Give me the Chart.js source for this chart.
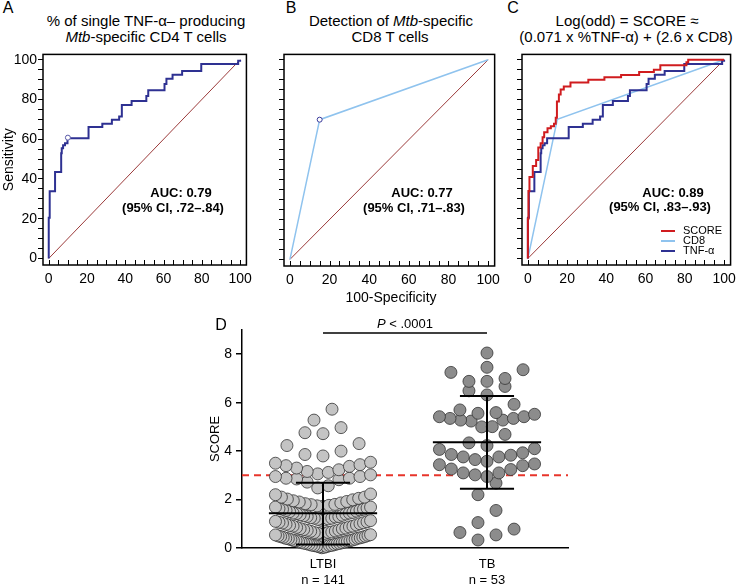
<!DOCTYPE html>
<html>
<head>
<meta charset="utf-8">
<script src="https://cdn.jsdelivr.net/npm/chart.js@4.4.1/dist/chart.umd.min.js"></script>
<style>
  body { margin: 0; background: #fff; }
  #fig { position: relative; width: 742px; height: 587px; font-family: "Liberation Sans", Arial, sans-serif; color: #000; }
  canvas { position: absolute; }
  .t { position: absolute; transform: translate(-50%, -50%); white-space: nowrap; }
  .ttl { font-size: 15px; }
  .auc { font-size: 13px; font-weight: bold; }
  .lbl { font-size: 16px; }
  .leg { position: absolute; font-size: 11px; line-height: 10px; }
  .leg span { display: inline-block; width: 14px; height: 2px; vertical-align: middle; margin-right: 8px; }
</style>
</head>
<body>
<div id="fig">
  <canvas id="rocA" width="258" height="250" style="left:0;top:45px"></canvas>
  <canvas id="rocB" width="236" height="250" style="left:270px;top:45px"></canvas>
  <canvas id="rocC" width="234" height="250" style="left:508px;top:45px"></canvas>
  <canvas id="dots" width="380" height="282" style="left:200px;top:305px"></canvas>

  <div class="t lbl" style="left:8px;top:8px">A</div>
  <div class="t lbl" style="left:291px;top:8px">B</div>
  <div class="t lbl" style="left:513px;top:8px">C</div>
  <div class="t lbl" style="left:221px;top:325px">D</div>

  <div class="t ttl" style="left:146px;top:20px">% of single TNF-α– producing</div>
  <div class="t ttl" style="left:146px;top:36px"><i>Mtb</i>-specific CD4 T cells</div>
  <div class="t ttl" style="left:391px;top:20px">Detection of <i>Mtb</i>-specific</div>
  <div class="t ttl" style="left:390px;top:36px">CD8 T cells</div>
  <div class="t ttl" style="left:627px;top:20px">Log(odd) = SCORE ≈</div>
  <div class="t ttl" style="left:626px;top:36px">(0.071 x %TNF-α) + (2.6 x CD8)</div>

  <div class="t auc" style="left:181px;top:192px">AUC: 0.79</div>
  <div class="t auc" style="left:173px;top:207px">(95% CI, .72–.84)</div>
  <div class="t auc" style="left:422px;top:192px">AUC: 0.77</div>
  <div class="t auc" style="left:414px;top:207px">(95% CI, .71–.83)</div>
  <div class="t auc" style="left:673px;top:192px">AUC: 0.89</div>
  <div class="t auc" style="left:660px;top:206px">(95% CI, .83–.93)</div>

  <div class="leg" style="left:661px;top:225px"><span style="background:#d01c1f"></span>SCORE</div>
  <div class="leg" style="left:661px;top:235px"><span style="background:#8fc3ee"></span>CD8</div>
  <div class="leg" style="left:661px;top:245px"><span style="background:#2e3192"></span>TNF-α</div>

  <div class="t" style="left:391px;top:297px;font-size:14px">100-Specificity</div>
  <div class="t" style="left:405px;top:323px;font-size:13px"><i>P</i> &lt; .0001</div>
</div>
<script>
// ROC curves (x = 100-specificity, y = sensitivity)
const tnfFpr = [0, 0, 0.5, 3.3, 6.5, 6.8, 7.5, 8.5, 9.8, 20.8, 28, 33, 36.8, 38.2, 43.3, 51, 52, 60.5, 61.5, 64.7, 69.7, 79.7, 99, 100];
const tnfTpr = [0, 20.5, 33.8, 43.5, 53, 55.5, 57, 58, 60.5, 66.2, 67.8, 69.8, 71.4, 77.2, 79.3, 81.8, 84.6, 87.8, 90.5, 92.4, 94.4, 97.9, 99.5, 100];
const tnfCut = [10, 60.8];

const cd8Fpr = [0, 15, 100];
const cd8Tpr = [0, 70, 100];
const cd8Cut = [15, 70];

const scoreFpr = [0, 0, 0.3, 0.8, 2.5, 4.2, 5.3, 6.5, 7.5, 8.3, 10, 11.7, 13.3, 14.2, 14.8, 15.8, 16.7, 18.3, 21.7, 30.8, 39, 47.5, 56.7, 64.2, 67.5, 80.8, 81.7, 100];
const scoreTpr = [0, 20, 34, 41, 46.5, 49.5, 55.8, 58, 61, 63.5, 65.5, 66.5, 67.8, 70.8, 79, 82.5, 85, 86.5, 88.5, 90, 91.2, 92.3, 93.8, 95, 97.3, 98.8, 100, 100];

const rocTicks = [0, 5, 10, 15, 20, 25, 30, 35, 40, 45, 50, 55, 60, 65, 70, 75, 80, 85, 90, 95, 100];

// panel D
const groups = ['LTBI', 'TB'];
const groupN = [141, 53];
const ltbiScores = [
  5.73, 5.28, 4.97, 4.76, 4.72, 4.31, 4.23, 4.0, 3.86, 3.8, 3.54, 3.5,
  3.44, 3.4, 3.37, 3.3, 3.23, 3.16, 3.12, 3.06, 3.02, 2.95, 2.95, 2.88, 2.88, 2.85, 2.82, 2.72,
  2.57, 2.48, 2.23, 2.2, 2.1, 2.1, 2.05, 2.02,
  1.99, 1.95, 1.92, 1.9, 1.86, 1.83, 1.8, 1.79, 1.76, 1.74, 1.72, 1.69, 1.69, 1.65, 1.62, 1.6, 1.6, 1.57, 1.55, 1.52,
  1.5, 1.47, 1.44, 1.44, 1.42, 1.4, 1.37, 1.35, 1.33, 1.3, 1.3, 1.28, 1.25, 1.23, 1.23, 1.2, 1.18, 1.16, 1.14, 1.13, 1.1, 1.08, 1.06, 1.04, 1.03, 1.0,
  0.98, 0.95, 0.93, 0.9, 0.9, 0.87, 0.85, 0.82, 0.8, 0.79, 0.76, 0.74, 0.73, 0.7, 0.69, 0.66, 0.64, 0.64, 0.61, 0.6, 0.58, 0.55, 0.54, 0.52, 0.5,
  0.48, 0.47, 0.45, 0.44, 0.42, 0.4, 0.4, 0.38, 0.36, 0.35, 0.33, 0.31, 0.3, 0.3, 0.28, 0.26, 0.25, 0.23, 0.22, 0.2, 0.19, 0.18, 0.17, 0.15, 0.14, 0.12, 0.11, 0.1, 0.1, 0.08, 0.06, 0.05, 0.03, 0.01
];
const tbScores = [
  8.05, 7.46, 7.36, 7.25, 7.0, 6.88, 6.88, 6.67, 6.49, 6.32, 5.93,
  5.7, 5.56, 5.42, 5.35, 5.28, 5.24, 5.28, 5.35, 5.42, 5.52, 5.59, 5.01, 5.0,
  4.69, 4.34,
  4.23, 4.07, 3.86, 3.76, 3.65, 3.76, 3.83, 3.93, 4.1,
  3.58, 3.44, 3.26, 3.1, 3.02, 2.95, 3.1, 3.24, 3.4, 3.47,
  2.68, 2.2, 1.55, 1.05, 0.78, 0.64, 0.54, 0.33
];
const groupMean = [1.43, 4.37];
const groupLow = [0.14, 2.45];
const groupHigh = [2.69, 6.28];
const cutoff = 3;
const pBarY = 8.88;

const tickFont = { family: '"Liberation Sans", Arial, sans-serif', size: 14 };

function pts(xs, ys) { return xs.map((x, i) => ({ x: x, y: ys[i] })); }

// rows of points, lowest in the middle and highest at the ends (column scatter)
function swarm(values, center) {
  const ROW_H = 0.55, ROW_W = 0.58, S_MAX = 0.11;
  const sorted = values.slice().sort((a, b) => a - b);
  const rows = [];
  let row = [];
  sorted.forEach(v => {
    if (row.length && v - row[0] > ROW_H) { rows.push(row); row = []; }
    row.push(v);
  });
  if (row.length) rows.push(row);
  const out = [];
  rows.forEach(r => {
    const n = r.length;
    const s = n > 1 ? Math.min(S_MAX, ROW_W / (n - 1)) : 0;
    const slots = r.map((_, k) => (k - (n - 1) / 2) * s).sort((a, b) => Math.abs(a) - Math.abs(b));
    r.forEach((v, k) => out.push({ x: center + slots[k], y: v }));
  });
  return out;
}

const frame = {
  id: 'frame',
  afterDraw(chart) {
    const { ctx, chartArea: a, scales } = chart;
    ctx.save();
    ctx.strokeStyle = '#000';
    ctx.lineWidth = 1;
    scales.x.ticks.forEach(t => {
      const px = Math.round(scales.x.getPixelForValue(t.value)) + 0.5;
      ctx.beginPath();
      ctx.moveTo(px, a.bottom);
      ctx.lineTo(px, a.bottom - 5);
      ctx.stroke();
    });
    ctx.lineWidth = 1.5;
    ctx.strokeRect(a.left, a.top, a.right - a.left, a.bottom - a.top);
    ctx.restore();
  }
};

function line(data, color, width, stepped) {
  return { data: data, borderColor: color, borderWidth: width, stepped: stepped, pointRadius: 0, fill: false, tension: 0 };
}
function marker(p, color) {
  return { data: [{ x: p[0], y: p[1] }], showLine: false, pointRadius: 2.5, pointBackgroundColor: '#fff', pointBorderColor: color, pointBorderWidth: 1 };
}
const diag = () => line(pts([0, 100], [0, 100]), '#9b3a3a', 1, false);

function roc(id, sets, opt) {
  return new Chart(document.getElementById(id), {
    type: 'line',
    data: { datasets: sets },
    options: {
      responsive: false,
      animation: false,
      layout: { padding: { left: 0, right: 7, top: opt.top, bottom: 0 } },
      plugins: { legend: { display: false }, tooltip: { enabled: false } },
      scales: {
        x: {
          type: 'linear', min: -3, max: 103.3,
          afterBuildTicks: s => { s.ticks = rocTicks.map(v => ({ value: v })); },
          afterFit: s => { s.height = opt.xh; },
          grid: { display: false, drawTicks: false }, border: { display: false },
          ticks: { padding: 6, color: '#000', font: tickFont, autoSkip: false, maxRotation: 0, callback: v => v % 20 === 0 ? v : '' }
        },
        y: {
          type: 'linear', min: -3.3, max: 102.7,
          afterBuildTicks: s => { s.ticks = rocTicks.map(v => ({ value: v })); },
          afterFit: s => { s.width = opt.yw; },
          grid: { display: true, drawOnChartArea: false, drawTicks: true, tickLength: 5, color: '#000', lineWidth: 1 },
          border: { display: false },
          title: { display: !!opt.ytitle, text: opt.ytitle || '', color: '#000', font: { family: tickFont.family, size: 14 }, padding: { top: 1, bottom: 0 } },
          ticks: { padding: 1, color: '#000', font: tickFont, autoSkip: false, callback: v => (opt.ylabels && v % 20 === 0) ? v : '' }
        }
      }
    },
    plugins: [frame]
  });
}

roc('rocA', [
  marker(tnfCut, '#5a5aa8'),
  line(pts(tnfFpr, tnfTpr), '#2e3192', 2, 'before'),
  diag()
], { top: 8, xh: 30, yw: 43, ylabels: true, ytitle: 'Sensitivity' });

roc('rocB', [
  marker(cd8Cut, '#3a3a9a'),
  line(pts(cd8Fpr, cd8Tpr), '#8fc3ee', 1.5, false),
  diag()
], { top: 7, xh: 29, yw: 14 });

roc('rocC', [
  line(pts(scoreFpr, scoreTpr), '#d01c1f', 2, 'before'),
  line(pts(tnfFpr, tnfTpr), '#2e3192', 2, 'before'),
  line(pts(cd8Fpr, cd8Tpr), '#8fc3ee', 1.5, false),
  diag()
], { top: 8, xh: 30, yw: 14 });

const dotExtras = {
  id: 'dotExtras',
  beforeDatasetsDraw(chart) {
    const { ctx, chartArea: a, scales: { y } } = chart;
    const py = y.getPixelForValue(cutoff);
    ctx.save();
    ctx.strokeStyle = '#e8352b';
    ctx.lineWidth = 2;
    ctx.setLineDash([7, 5]);
    ctx.beginPath();
    ctx.moveTo(a.left, py);
    ctx.lineTo(a.right, py);
    ctx.stroke();
    ctx.restore();
  },
  afterDatasetsDraw(chart) {
    const { ctx, scales: { x, y } } = chart;
    ctx.save();
    ctx.strokeStyle = '#000';
    ctx.lineWidth = 2;
    const h = (x1, x2, v) => { ctx.beginPath(); ctx.moveTo(x.getPixelForValue(x1), y.getPixelForValue(v)); ctx.lineTo(x.getPixelForValue(x2), y.getPixelForValue(v)); ctx.stroke(); };
    groups.forEach((g, i) => {
      ctx.beginPath();
      ctx.moveTo(x.getPixelForValue(i), y.getPixelForValue(groupLow[i]));
      ctx.lineTo(x.getPixelForValue(i), y.getPixelForValue(groupHigh[i]));
      ctx.stroke();
      h(i - 0.33, i + 0.33, groupMean[i]);
      h(i - 0.165, i + 0.165, groupLow[i]);
      h(i - 0.165, i + 0.165, groupHigh[i]);
    });
    ctx.lineWidth = 1.5;
    h(0, 1, pBarY);
    ctx.restore();
  }
};

new Chart(document.getElementById('dots'), {
  type: 'scatter',
  data: {
    datasets: [
      { data: swarm(ltbiScores, 0), backgroundColor: '#c4c4c4', borderColor: '#333', borderWidth: 0.8, pointRadius: 6, clip: false },
      { data: swarm(tbScores, 1), backgroundColor: '#8c8c8c', borderColor: '#333', borderWidth: 0.8, pointRadius: 6, clip: false }
    ]
  },
  options: {
    responsive: false,
    animation: false,
    layout: { padding: { left: 0, right: 12, top: 25, bottom: 0 } },
    plugins: { legend: { display: false }, tooltip: { enabled: false } },
    scales: {
      x: {
        type: 'linear', min: -0.494, max: 1.494,
        afterBuildTicks: s => { s.ticks = [{ value: 0 }, { value: 1 }]; },
        afterFit: s => { s.height = 39; },
        grid: { display: false, drawTicks: false },
        border: { display: true, color: '#000', width: 1.5 },
        ticks: { padding: 9, color: '#000', font: { family: tickFont.family, size: 13 }, maxRotation: 0, callback: v => [groups[v], 'n = ' + groupN[v]] }
      },
      y: {
        type: 'linear', min: 0, max: 9,
        afterBuildTicks: s => { s.ticks = [0, 2, 4, 6, 8].map(v => ({ value: v })); },
        afterFit: s => { s.width = 42; },
        grid: { display: true, drawOnChartArea: false, drawTicks: true, tickLength: 6, color: '#000', lineWidth: 1.5 },
        border: { display: true, color: '#000', width: 1.5 },
        title: { display: true, text: 'SCORE', color: '#000', font: { family: tickFont.family, size: 13 }, padding: { top: 8, bottom: 0 } },
        ticks: { padding: 4, color: '#000', font: tickFont }
      }
    }
  },
  plugins: [dotExtras]
});
</script>
</body>
</html>
